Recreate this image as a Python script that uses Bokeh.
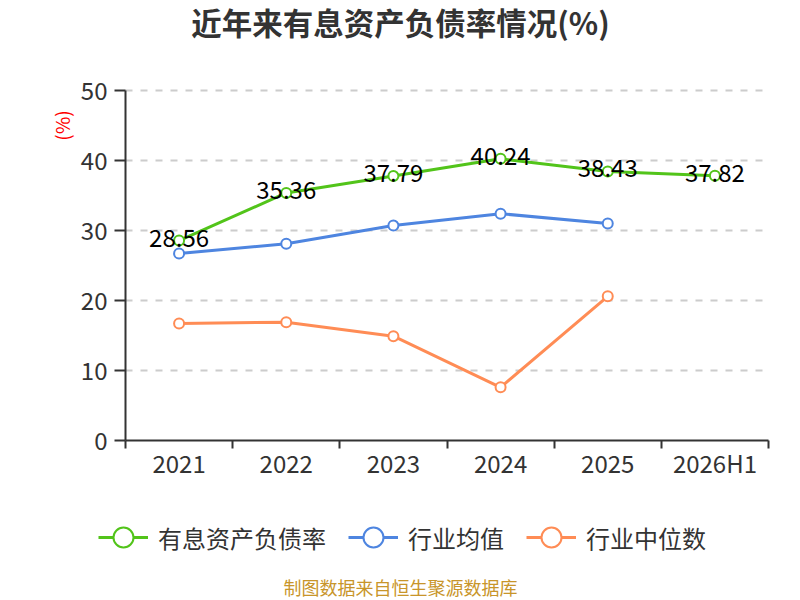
import math
from bokeh.plotting import figure
from bokeh.models import (FixedTicker, Legend, LegendItem, LabelSet, Label,
                          ColumnDataSource, Range1d)
from bokeh.embed import file_html
from bokeh.resources import INLINE
from bokeh.core.properties import value

# ---------------- data ----------------
categories = ["2021", "2022", "2023", "2024", "2025", "2026H1"]
debt_ratio = [28.56, 35.36, 37.79, 40.24, 38.43, 37.82]          # 有息资产负债率
industry_mean = [26.7, 28.1, 30.7, 32.4, 31.0]                    # 行业均值
industry_median = [16.7, 16.9, 14.9, 7.6, 20.6]                   # 行业中位数
y_ticks = [0, 10, 20, 30, 40, 50]
series_names = ["有息资产负债率", "行业均值", "行业中位数"]
title_text = "近年来有息资产负债率情况(%)"
unit_text = "(%)"
source_text = "制图数据来自恒生聚源数据库"

# ---------------- layout / style ----------------
W, H = 800, 600
PLOT_L, PLOT_R, PLOT_T, PLOT_B = 125, 768, 90, 440   # plotting area in pixels
FONT = "Noto Sans CJK SC"
GREEN = "#52c41a"
BLUE = "#4e85e0"
ORANGE = "#ff8c55"
AXIS = "#333333"
TEXT = "#333333"

n = len(categories)
x_lo, x_hi = -0.5, n - 0.5
y_lo, y_hi = y_ticks[0], y_ticks[-1]
xs = (PLOT_R - PLOT_L) / (x_hi - x_lo)     # px per category
ys = (PLOT_B - PLOT_T) / (y_hi - y_lo)     # px per unit

# the frame covers the whole canvas; axes are pinned to the plotting area
p = figure(width=W, height=H, output_backend="svg", toolbar_location=None,
           x_range=Range1d(x_lo - PLOT_L / xs, x_hi + (W - PLOT_R) / xs),
           y_range=Range1d(y_lo - (H - PLOT_B) / ys, y_hi + PLOT_T / ys),
           min_border=0)
p.outline_line_color = None
p.background_fill_color = "white"
p.border_fill_color = "white"
p.grid.visible = False

xi = list(range(n))
xa = p.xaxis[0]
xa.fixed_location = y_lo
xa.bounds = (x_lo, x_hi)
xa.ticker = FixedTicker(ticks=xi, minor_ticks=[i - 0.5 for i in range(n + 1)])
xa.major_label_overrides = {i: c for i, c in enumerate(categories)}
xa.major_tick_out = 0
xa.major_tick_in = 0
xa.minor_tick_out = 8
xa.minor_tick_in = 0
xa.minor_tick_line_color = AXIS
xa.minor_tick_line_width = 2
xa.axis_line_color = AXIS
xa.axis_line_width = 2
xa.major_label_text_font = FONT
xa.major_label_text_font_size = "24px"
xa.major_label_text_color = TEXT
xa.major_label_standoff = -4

ya = p.yaxis[0]
ya.fixed_location = x_lo
ya.bounds = (y_lo, y_hi)
ya.ticker = FixedTicker(ticks=y_ticks, minor_ticks=[])
ya.major_tick_out = 11
ya.major_tick_in = 0
ya.major_tick_line_color = AXIS
ya.major_tick_line_width = 2
ya.axis_line_color = AXIS
ya.axis_line_width = 2
ya.major_label_text_font = FONT
ya.major_label_text_font_size = "24px"
ya.major_label_text_color = TEXT
ya.major_label_standoff = 7

# dashed horizontal grid lines across the plotting area
gl = y_ticks[1:]
p.segment(x0=[x_lo] * len(gl), y0=gl, x1=[x_hi] * len(gl), y1=gl,
          line_color="#cccccc", line_width=2, line_dash="7 8")

# series
def draw(vals, color):
    src = ColumnDataSource(dict(x=xi[:len(vals)], y=vals))
    r1 = p.line("x", "y", source=src, line_color=color, line_width=3)
    r2 = p.scatter("x", "y", source=src, size=10, fill_color="white",
                   line_color=color, line_width=2)
    return [r1, r2]

r_med = draw(industry_median, ORANGE)
r_mean = draw(industry_mean, BLUE)
r_debt = draw(debt_ratio, GREEN)

lbl_src = ColumnDataSource(dict(x=xi, y=debt_ratio,
                                t=["%.2f" % v for v in debt_ratio]))
p.add_layout(LabelSet(x="x", y="y", text="t", source=lbl_src,
                      text_align="center", text_baseline="middle", y_offset=3,
                      text_font=value(FONT), text_font_size="24px",
                      text_color="black"))

# legend below the axis
items = [LegendItem(label=nm, renderers=r)
         for nm, r in zip(series_names, [r_debt, r_mean, r_med])]
legend = Legend(items=items, orientation="horizontal", location=(98, 38),
                glyph_width=50, glyph_height=50, label_standoff=10, spacing=22,
                padding=0, margin=0, border_line_color=None,
                background_fill_alpha=0,
                label_text_font=FONT, label_text_font_size="24px",
                label_text_color=TEXT)
p.add_layout(legend)

# texts (screen units, measured from the canvas bottom-left)
p.add_layout(Label(x=W / 2, y=H - 21, x_units="screen", y_units="screen",
                   text=title_text, text_align="center", text_baseline="middle",
                   text_font=FONT, text_font_size="30.5px", text_font_style="bold",
                   text_color=TEXT))
p.add_layout(Label(x=61, y=H - 125, x_units="screen", y_units="screen",
                   text=unit_text, angle=math.pi / 2, text_align="center",
                   text_baseline="middle", text_color="red",
                   text_font=FONT, text_font_size="19px"))
p.add_layout(Label(x=W / 2, y=H - 586, x_units="screen", y_units="screen",
                   text=source_text, text_align="center", text_baseline="middle",
                   text_color="#c8952a", text_font=FONT, text_font_size="18px"))

open("out.html", "w").write(file_html(p, INLINE))
